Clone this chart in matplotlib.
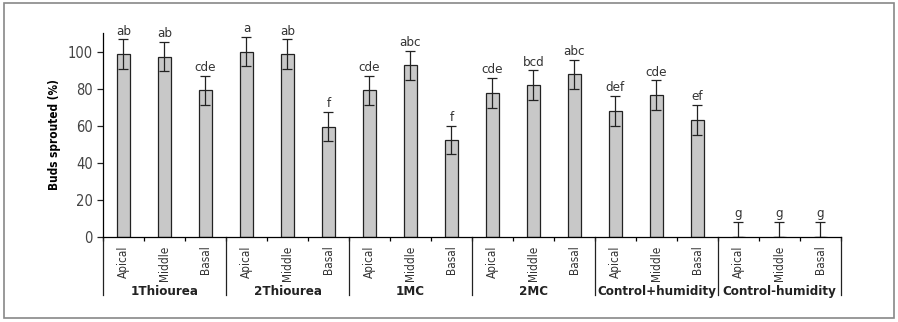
import numpy as np
import matplotlib
matplotlib.use("Agg")
from matplotlib import pyplot as plt
from matplotlib.patches import Rectangle
from matplotlib.lines import Line2D

plt.rcParams['font.family'] = ['DejaVu Sans']
plt.rcParams['font.stretch'] = 'condensed'

groups = ["1Thiourea", "2Thiourea", "1MC", "2MC", "Control+humidity", "Control-humidity"]
positions = ["Apical", "Middle", "Basal"]
values = [98.5, 97.3, 79.0,
          100.0, 98.5, 59.5,
          79.0, 92.5, 52.5,
          77.7, 81.8, 87.7,
          68.0, 76.4, 63.0,
          0.0, 0.0, 0.0]
errors = [8, 8, 8,
          8, 8, 8,
          8, 8, 7.5,
          8, 8, 8,
          8, 8, 8,
          8, 8, 8]
letters = ["ab", "ab", "cde",
           "a", "ab", "f",
           "cde", "abc", "f",
           "cde", "bcd", "abc",
           "def", "cde", "ef",
           "g", "g", "g"]

vals = np.array(values)
errs = np.array(errors)
err_lo = np.minimum(errs, vals)
x = np.arange(len(vals))

fig = plt.figure(figsize=(8.98, 3.22), dpi=100)
ax = fig.add_axes([0.1147, 0.264, 0.8218, 0.6335])

ax.bar(x, vals, width=0.31, color="#c8c8c8", edgecolor="#222222", linewidth=0.9)
ax.errorbar(x, vals, yerr=[err_lo, errs], fmt="none", ecolor="#222222",
            elinewidth=0.9, capsize=3.5, capthick=0.9)
for xi, v, e, t in zip(x, vals, errs, letters):
    ax.text(xi, v + e + 1, t, ha="center", va="bottom", fontsize=9.5, color="#333333")

ax.set_xlim(-0.5, len(vals) - 0.5)
ax.set_ylim(0, 110)
ax.set_yticks(range(0, 101, 20))
ax.tick_params(axis="y", labelsize=10.5, length=4, width=0.9, colors="#222222",
               labelcolor="#444444")
ax.spines["top"].set_visible(False)
ax.spines["right"].set_visible(False)
ax.spines["left"].set_linewidth(0.9)
ax.spines["bottom"].set_linewidth(0.9)
ax.set_ylabel("Buds sprouted (%)", fontsize=8.5, fontweight="bold", labelpad=5)

# slot ticks on the x axis, labels drawn by hand
ax.set_xticks(np.arange(-0.5, len(vals), 1.0))
ax.set_xticklabels([])
ax.tick_params(axis="x", direction="out", length=3, width=0.9)

trans = ax.get_xaxis_transform()
for xi in x:
    ax.text(xi, -0.04, positions[xi % 3], rotation=90, ha="center", va="top",
            fontsize=8.5, color="#333333", transform=trans)
for g, name in enumerate(groups):
    ax.text(g * 3 + 1, -0.237, name, ha="center", va="top", fontsize=9.5,
            fontweight="bold", color="#222222", transform=trans)
for b in np.arange(-0.5, len(vals), 3.0):
    ax.add_line(Line2D([b, b], [0, -0.285], transform=trans, color="#222222",
                       linewidth=0.9, clip_on=False))

fig.patches.append(Rectangle((0.004, 0.012), 0.992, 0.978, transform=fig.transFigure,
                             fill=False, edgecolor="#888888", linewidth=1.2))

fig.savefig("out.png", dpi=100)
